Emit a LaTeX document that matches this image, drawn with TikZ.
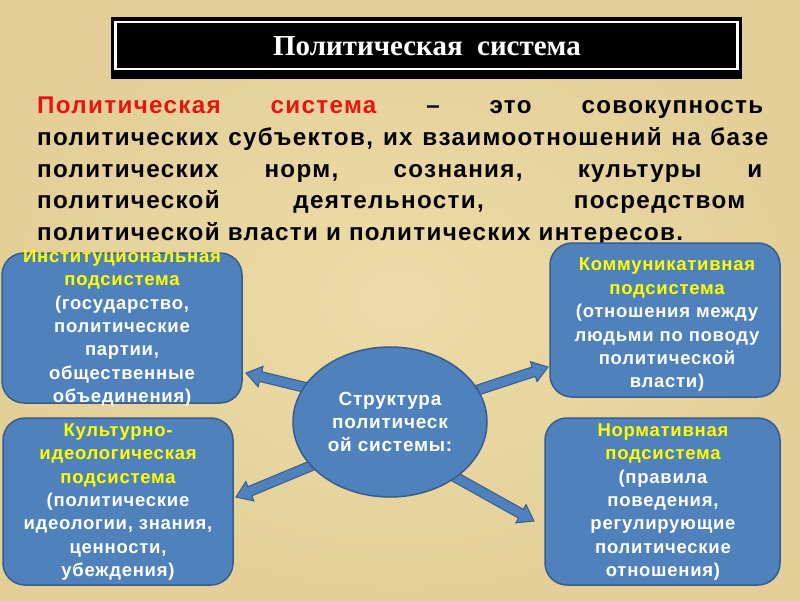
\documentclass[tikz,border=0pt]{standalone}
\usepackage{fontspec}
\setmainfont{Liberation Sans}
\newfontfamily\titlefont{Liberation Serif}
\newfontfamily\parafont[LetterSpace=5.5]{Liberation Sans}
\newfontfamily\boxfont[LetterSpace=4]{Liberation Sans}
\usetikzlibrary{shapes.geometric,calc}
\pgfdeclarelayer{bglayer}
\pgfdeclarelayer{arrlayer}
\pgfsetlayers{bglayer,arrlayer,main}
\definecolor{bgin}{RGB}{237,220,168}
\definecolor{bgout}{RGB}{228,207,152}
\definecolor{boxblue}{RGB}{79,129,189}
\definecolor{boxedge}{RGB}{56,93,138}
\definecolor{ttlred}{RGB}{232,20,20}
\definecolor{subyellow}{RGB}{255,255,0}
\tikzset{
  subbox/.style={draw=boxedge, fill=boxblue, line width=1.5pt, rounded corners=22pt, inner sep=0pt},
  subtext/.style={text=white, font=\boxfont\bfseries\fontsize{18.5}{23.4}\selectfont, align=center, inner sep=0pt},
  paraline/.style={anchor=base west, inner sep=0pt, font=\parafont\bfseries\fontsize{24.2}{31.7}\selectfont},
  centre/.style={ellipse, draw=boxedge, fill=boxblue, line width=1.5pt, minimum width=194pt,
    minimum height=150pt, inner sep=0pt, text=white, align=center, font=\boxfont\bfseries\fontsize{19}{23}\selectfont},
  titlebox/.style={fill=black, inner sep=0pt, minimum width=631pt, minimum height=62pt},
}
\newcommand{\yel}[1]{\textcolor{subyellow}{#1}}
\newcommand{\blockarrow}[2]{%
  \coordinate (ba-s) at ($(#1)!-12pt!(#2)$);
  \coordinate (ba-n) at ($(#2)!15pt!(#1)$);
  \filldraw[fill=boxblue, draw=boxedge, line width=1pt, line join=miter]
    ($(ba-s)!5pt!90:(#2)$) -- ($(ba-n)!5pt!90:(#2)$) -- ($(ba-n)!10.5pt!90:(#2)$) -- (#2)
    -- ($(ba-n)!10.5pt!-90:(#2)$) -- ($(ba-n)!5pt!-90:(#2)$) -- ($(ba-s)!5pt!-90:(#2)$) -- cycle;}
\begin{document}
\begin{tikzpicture}[x=1pt, y=-1pt]
\useasboundingbox (0,0) rectangle (800,600);
\begin{pgfonlayer}{bglayer}
  \shade[inner color=bgin, outer color=bgout] (0,0) rectangle (800,600);
\end{pgfonlayer}

% title
\node[titlebox] (tbox) at (426.5,48) {};
\draw[white, line width=2.5pt] ([shift={(4.5pt,-5pt)}]tbox.north west) rectangle ([shift={(-4.5pt,10pt)}]tbox.south east);
\node[text=white, font=\titlefont\bfseries\fontsize{29}{33}\selectfont, anchor=base, inner sep=0pt] (title) at (427,55) {Политическая\ \ система};

% definition paragraph
\node[paraline] (p1) at (37,113) {\makebox[726pt][s]{\textcolor{ttlred}{Политическая система} – это совокупность}};
\node[paraline] (p2) at (37,145) {\makebox[731pt][s]{политических субъектов, их взаимоотношений на базе}};
\node[paraline] (p3) at (37,177) {\makebox[725pt][s]{политических норм, сознания, культуры и}};
\node[paraline] (p4) at (37,208) {\makebox[708pt][s]{политической деятельности, посредством}};
\node[paraline] (p5) at (37,240) {политической власти и политических интересов.};

% centre
\node[centre] (ell) at (390,422) {Структура\\политическ\\ой системы:};

% boxes
\node[subbox, minimum width=240pt, minimum height=150pt] (inst) at (122,328) {};
\node[subtext] (inst-t) at (122,328) {\yel{Институциональная}\\\yel{подсистема}\\(государство,\\политические\\партии,\\общественные\\объединения)};

\node[subbox, minimum width=230pt, minimum height=154pt] (comm) at (665,320) {};
\node[subtext] (comm-t) at (667,325) {\yel{Коммуникативная}\\\yel{подсистема}\\(отношения между\\людьми по поводу\\политической\\власти)};

\node[subbox, minimum width=230pt, minimum height=167pt] (cult) at (118,501.5) {};
\node[subtext] (cult-t) at (118,502) {\yel{Культурно-}\\\yel{идеологическая}\\\yel{подсистема}\\(политические\\идеологии, знания,\\ценности,\\убеждения)};

\node[subbox, minimum width=235pt, minimum height=167pt] (norm) at (662.5,501.5) {};
\node[subtext] (norm-t) at (663,502) {\yel{Нормативная}\\\yel{подсистема}\\(правила\\поведения,\\регулирующие\\политические\\отношения)};

% arrows
\coordinate (t1) at (246,373);
\coordinate (t2) at (548,367);
\coordinate (t3) at (236,497);
\coordinate (t4) at (534,521);
\begin{pgfonlayer}{arrlayer}
  \blockarrow{ell.158}{t1}
  \blockarrow{ell.20}{t2}
  \blockarrow{ell.209}{t3}
  \blockarrow{ell.320}{t4}
\end{pgfonlayer}
\end{tikzpicture}
\end{document}
